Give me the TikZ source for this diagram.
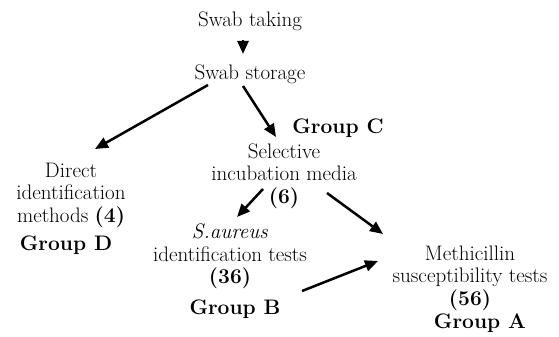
\documentclass[tikz,border=0pt]{standalone}
\usetikzlibrary{arrows.meta}
\begin{document}
\begin{tikzpicture}[x=1pt,y=-1pt,
  txt/.style={font=\fontsize{21}{22.5}\selectfont, align=center, inner sep=0pt},
  grp/.style={font=\fontsize{21}{22.5}\selectfont\bfseries, inner sep=0pt, anchor=base},
  arr/.style={line width=2.5pt, -{Triangle[length=13pt,width=11pt]}}]
\path[use as bounding box] (0,0) rectangle (559,337);

\node[txt, anchor=base] (take) at (250,27) {Swab taking};
\node[txt, anchor=base] (stor) at (250,79) {Swab storage};
\node[grp] (grpC) at (338,133) {Group C};
\node[txt, anchor=north] (sel) at (284,143.4) {Selective\\incubation media\\\textbf{(6)}};
\node[txt, anchor=north] (direct) at (71,162.7) {Direct\\identification\\methods \textbf{(4)}};
\node[grp] (grpD) at (66,250) {Group D};
\node[txt, anchor=north] (saur) at (230,223.7) {\textit{S.aureus}\\identification tests\\\textbf{(36)}};
\node[grp] (grpB) at (235,314) {Group B};
\node[txt, anchor=north] (meth) at (470,245.4) {Methicillin\\susceptibility tests\\\textbf{(56)}};
\node[grp] (grpA) at (480,328) {Group A};

\draw[arr] ([shift={(-7,13)}]take.base) -- ([shift={(-7,-25)}]stor.base);
\draw[arr] ([shift={(-42,6)}]stor.base) -- ([shift={(24,-13.7)}]direct.north);
\draw[arr] ([shift={(-7,7)}]stor.base) -- ([shift={(-8,-6.4)}]sel.north);
\draw[arr] ([shift={(-21,45.6)}]sel.north) -- ([shift={(7,-6.7)}]saur.north);
\draw[arr] ([shift={(43,49.6)}]sel.north) -- ([shift={(-87,-11.4)}]meth.north);
\draw[arr] ([shift={(67,-23)}]grpB.base) -- ([shift={(-92,15.6)}]meth.north);
\end{tikzpicture}
\end{document}
